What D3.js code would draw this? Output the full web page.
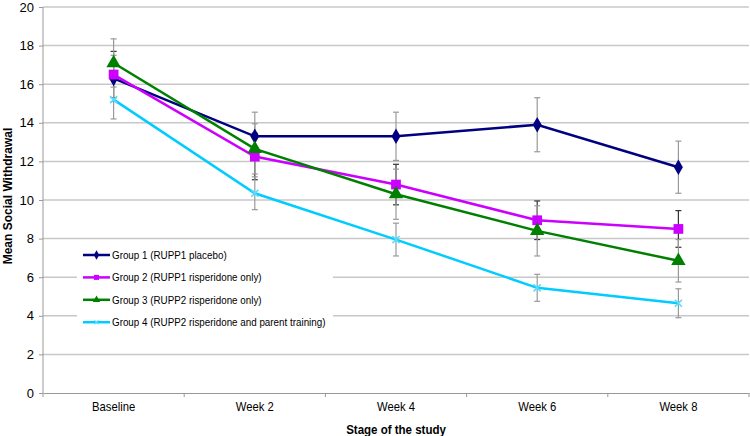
<!DOCTYPE html>
<meta charset="utf-8">
<script src="https://d3js.org/d3.v7.min.js"></script>
<style>
  body { margin: 0; background: #fff; }
  text { font-family: "Liberation Sans", Arial, sans-serif; }
</style>
<div id="chart"></div>
<script>
    // data
    var stages = ["Baseline", "Week 2", "Week 4", "Week 6", "Week 8"];
    var groupNames = [
        "Group 1 (RUPP1 placebo)",
        "Group 2 (RUPP1 risperidone only)",
        "Group 3 (RUPP2 risperidone only)",
        "Group 4 (RUPP2 risperidone and parent training)"
    ];
    var group1 = [16.3, 13.3, 13.3, 13.9, 11.7];
    var group2 = [16.5, 12.25, 10.8, 8.95, 8.5];
    var group3 = [17.1, 12.65, 10.3, 8.4, 6.85];
    var group4 = [15.2, 10.35, 7.95, 5.45, 4.65];
    var err1 = [1.2, 1.25, 1.25, 1.4, 1.35];
    var err2 = [1.2, 1.2, 1.05, 1.0, 0.95];
    var err3 = [1.25, 1.3, 1.3, 1.3, 1.1];
    var err4 = [1.0, 0.85, 0.85, 0.7, 0.75];
    var yTicks = [0, 2, 4, 6, 8, 10, 12, 14, 16, 18, 20];

    var colors = ["#000080", "#cc00ff", "#008000", "#00ccff"];
    var symbols = [d3.symbolDiamond, d3.symbolSquare, d3.symbolTriangle, d3.symbolCross];
    var errColors = ["#999", "#333", "#999", "#999"];

    var series = [group1, group2, group3, group4].map(function (v, i) {
        var e = [err1, err2, err3, err4][i];
        return { name: groupNames[i], color: colors[i], errColor: errColors[i], idx: i,
            values: v.map(function (d, j) { return { stage: stages[j], value: d, err: e[j] }; }) };
    });

    var margin = { top: 7, right: 1, bottom: 43, left: 43 },
        width = 750 - margin.left - margin.right,
        height = 436 - margin.top - margin.bottom;

    var svg = d3.select("#chart")
        .append("svg")
        .attr("width", 750)
        .attr("height", 436)
        .append("g")
        .attr("transform", "translate(" + margin.left + "," + margin.top + ")");

    var x = d3.scaleBand().domain(stages).range([0, width]);
    var y = d3.scaleLinear().domain([0, 20]).range([height, 0]);

    // gridlines
    svg.append("g")
        .selectAll("line")
        .data(yTicks.slice(1))
        .enter()
        .append("line")
        .attr("x1", 0).attr("x2", width)
        .attr("y1", function (d) { return y(d); })
        .attr("y2", function (d) { return y(d); })
        .attr("stroke", "#c8c8c8")
        .attr("stroke-width", 1.5);

    // y axis
    var yAxis = svg.append("g")
        .call(d3.axisLeft(y).tickValues(yTicks).tickSize(4).tickPadding(5));
    yAxis.select(".domain").attr("stroke", "#999").attr("d", "M0,0V" + height);
    yAxis.selectAll(".tick line").attr("stroke", "#999");
    yAxis.selectAll("text").style("font-size", "13px").attr("fill", "#000");

    // x axis, ticks at band boundaries
    var xAxis = svg.append("g")
        .attr("transform", "translate(0," + height + ")")
        .call(d3.axisBottom(x).tickSize(0).tickPadding(9));
    xAxis.select(".domain").attr("stroke", "#999");
    xAxis.selectAll("text")
        .style("font-size", "12px")
        .attr("fill", "#000")
        .attr("transform", "scale(0.94,1)");
    xAxis.selectAll(".bound")
        .data(d3.range(stages.length + 1))
        .enter()
        .append("line")
        .attr("x1", function (d) { return d * x.step(); })
        .attr("x2", function (d) { return d * x.step(); })
        .attr("y1", 0).attr("y2", 4)
        .attr("stroke", "#999");

    // axis titles
    svg.append("text")
        .attr("transform", "translate(" + (width / 2) + "," + (height + 41) + ") scale(0.96,1)")
        .style("text-anchor", "middle")
        .style("font-size", "12px")
        .style("font-weight", "bold")
        .text("Stage of the study");

    svg.append("text")
        .attr("transform", "rotate(-90)")
        .attr("x", -189)
        .attr("y", -margin.left + 12)
        .style("text-anchor", "middle")
        .style("font-size", "12px")
        .style("font-weight", "bold")
        .text("Mean Social Withdrawal");

    var cx = function (d) { return x(d.stage) + x.bandwidth() / 2; };

    // legend box (drawn before data so lines pass over it)
    var legend = svg.append("g").attr("transform", "translate(34,236)");
    legend.append("rect")
        .attr("x", 0).attr("y", 0)
        .attr("width", 256).attr("height", 92)
        .attr("fill", "#fff");

    // error bars
    var eb = svg.append("g")
        .selectAll("g")
        .data(series)
        .enter()
        .append("g")
        .attr("stroke", function (d) { return d.errColor; })
        .attr("stroke-width", 1.2);
    eb.selectAll("line.v")
        .data(function (d) { return d.values; })
        .enter()
        .append("line")
        .attr("x1", cx).attr("x2", cx)
        .attr("y1", function (d) { return y(d.value + d.err); })
        .attr("y2", function (d) { return y(d.value - d.err); });
    [1, -1].forEach(function (s) {
        eb.selectAll("line.c" + s)
            .data(function (d) { return d.values; })
            .enter()
            .append("line")
            .attr("x1", function (d) { return cx(d) - 3; })
            .attr("x2", function (d) { return cx(d) + 3; })
            .attr("y1", function (d) { return y(d.value + s * d.err); })
            .attr("y2", function (d) { return y(d.value + s * d.err); });
    });

    // lines
    var line = d3.line().x(cx).y(function (d) { return y(d.value); });
    svg.append("g")
        .selectAll("path")
        .data(series)
        .enter()
        .append("path")
        .attr("d", function (d) { return line(d.values); })
        .attr("fill", "none")
        .attr("stroke", function (d) { return d.color; })
        .attr("stroke-width", 2.5);

    // markers
    var markerSize = [70, 95, 90, 60];
    var mk = svg.append("g")
        .selectAll("g")
        .data(series)
        .enter()
        .append("g");
    mk.selectAll("path")
        .data(function (d) { return d.values.map(function (v) { return { s: d, v: v }; }); })
        .enter()
        .append("path")
        .attr("transform", function (d) {
            var r = d.s.idx === 3 ? 45 : 0;
            return "translate(" + cx(d.v) + "," + y(d.v.value) + ") rotate(" + r + ")";
        })
        .attr("d", function (d) { return d3.symbol().type(symbols[d.s.idx]).size(markerSize[d.s.idx])(); })
        .attr("fill", function (d) { return d.s.idx === 3 ? "none" : d.s.color; })
        .attr("stroke", function (d) { return d.s.idx === 3 ? "#55ddff" : "none"; })
        .attr("stroke-width", 1.6)
        .each(function (d) {
            if (d.s.idx === 3) {
                d3.select(this).attr("d", "M-5,0H5M0,-5V5");
            }
        });

    // legend entries
    var item = legend.selectAll("g.item")
        .data(series)
        .enter()
        .append("g")
        .attr("transform", function (d, i) { return "translate(6," + (12 + i * 22.4) + ")"; });
    item.append("line")
        .attr("x1", 0).attr("x2", 27)
        .attr("stroke", function (d) { return d.color; })
        .attr("stroke-width", 2.5);
    item.append("path")
        .attr("transform", function (d) { return "translate(13.5,0)" + (d.idx === 3 ? " rotate(45)" : ""); })
        .attr("d", function (d) {
            return d.idx === 3 ? "M-3,0H3M0,-3V3" : d3.symbol().type(symbols[d.idx]).size(25)();
        })
        .attr("fill", function (d) { return d.color; })
        .attr("stroke", function (d) { return d.idx === 3 ? "#66ddff" : "none"; });
    item.append("text")
        .attr("transform", "translate(29,0) scale(0.855,1)")
        .attr("dy", "0.35em")
        .style("font-size", "11.5px")
        .text(function (d) { return d.name; });
</script>
